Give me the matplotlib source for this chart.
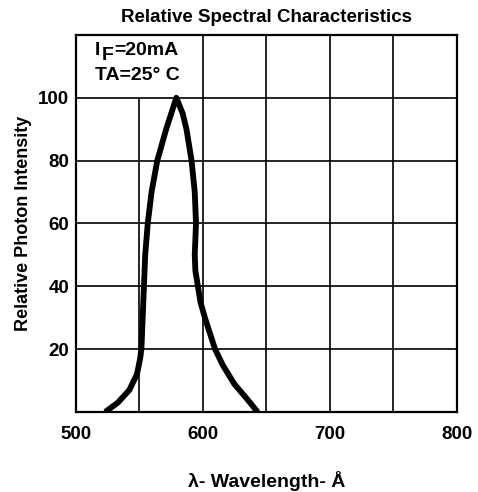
import matplotlib
matplotlib.use("Agg")
import matplotlib.pyplot as plt
from matplotlib.patches import Rectangle

# curve (wavelength in nm, relative intensity %)
wavelength = [523, 533, 542, 548, 550.5, 551.5, 552.5, 553.5, 554.5, 556.5, 559.5, 564, 571, 575, 579,
              584, 587, 591, 593.5, 594.5, 593.5, 594, 596, 598, 601.5, 605.5, 609.5, 615.5, 624.5, 635, 643]
intensity = [0, 3, 7, 12, 17, 20, 30, 40, 50, 60, 70, 80, 90, 95, 100,
             95, 90, 80, 70, 60, 50, 45, 40, 35, 30, 25, 20, 15, 9, 4, 0]

x_ticks = [500, 600, 700, 800]
x_grid = [550, 650, 750]
y_ticks = [20, 40, 60, 80, 100]

plt.rcParams["font.family"] = ["Liberation Sans", "DejaVu Sans"]

fig = plt.figure(figsize=(4.78, 4.92), dpi=100)
ax = fig.add_axes([0.159, 0.1626, 0.797, 0.7664])

ax.set_xlim(500, 800)
ax.set_ylim(0, 120)

# grid
for gx in x_ticks[1:-1] + x_grid:
    ax.axvline(gx, color="black", lw=1.2, zorder=3 if gx == 600 else 1)
for gy in y_ticks:
    ax.axhline(gy, color="black", lw=1.2, zorder=3 if gy == 100 else 1)

# note box in the top-left cell
ax.add_patch(Rectangle((500, 100), 100, 20, facecolor="white", edgecolor="none", zorder=2))
ax.text(515, 115, "I", fontsize=14, fontweight="bold", va="center", zorder=3)
ax.text(520.5, 113.6, "F", fontsize=14, fontweight="bold", va="center", zorder=3)
ax.text(530, 115, "=20mA", fontsize=14, fontweight="bold", va="center", zorder=3)
ax.text(515, 107, "TA=25\u00b0 C", fontsize=14, fontweight="bold", va="center", zorder=3)

ax.plot(wavelength, intensity, color="black", lw=4.2, solid_capstyle="butt", zorder=4)

ax.set_xticks(x_ticks)
ax.set_yticks(y_ticks)
ax.tick_params(labelsize=13.5, length=0)
ax.tick_params(axis="x", pad=10)
ax.tick_params(axis="y", pad=5)
for lab in ax.get_xticklabels() + ax.get_yticklabels():
    lab.set_fontweight("bold")
for s in ax.spines.values():
    s.set_linewidth(1.6)

ax.set_ylabel("Relative Photon Intensity", fontsize=13, fontweight="bold", labelpad=4)
ax.set_xlabel("\u03bb- Wavelength- \u00c5", fontsize=14, fontweight="bold", labelpad=20)
ax.set_title("Relative Spectral Characteristics", fontsize=13.5, fontweight="bold", pad=9)

fig.savefig("out.png", dpi=100)
